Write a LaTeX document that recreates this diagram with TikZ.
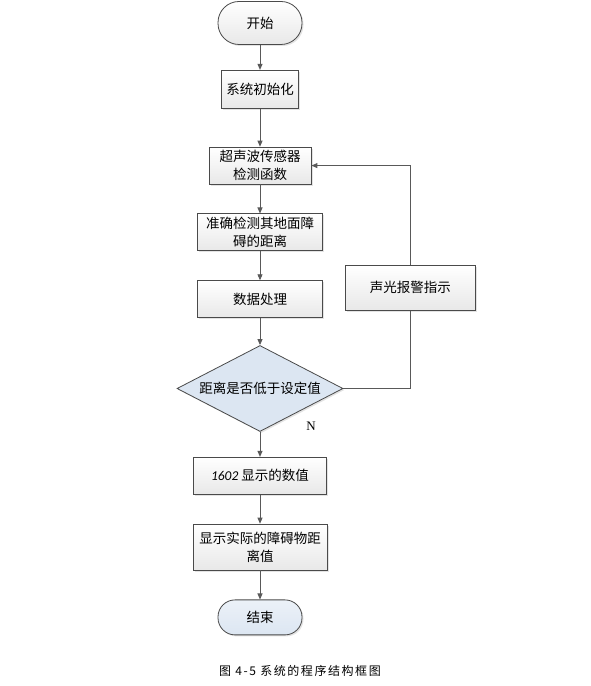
\documentclass[tikz,border=0pt]{standalone}
\usepackage{fontspec}
\usetikzlibrary{positioning,arrows.meta,shapes.geometric,shadows}
\setmainfont{Liberation Serif}
\newfontfamily\cjk{Noto Sans CJK SC}
\newfontfamily\capfont[LetterSpace=13]{Noto Sans CJK SC}
\newfontfamily\cali{Carlito}
\definecolor{ink}{HTML}{595959}
\definecolor{edge}{HTML}{4A4A4A}
\definecolor{pale}{HTML}{DCE6F2}

\begin{document}
\begin{tikzpicture}[x=1pt,y=1pt,box/.style={draw=edge,line width=0.8pt,top color=white,bottom color=black!9,drop shadow={shadow xshift=1.5pt,shadow yshift=-1.5pt,fill=black!22},minimum height=37pt,inner sep=1pt,align=center,font=\cjk\fontsize{13.5}{18}\selectfont},term/.style={box,minimum width=84pt},decide/.style={box,diamond,top color=pale,bottom color=pale,aspect=1.93,inner sep=0pt,minimum width=166pt,minimum height=86pt},arr/.style={-{Triangle[length=6pt,width=5pt]},line width=0.9pt,draw=ink}]
\useasboundingbox (0,0) rectangle (590,686);
\node[term,minimum height=43pt,rounded corners=21pt] (start) at (260,663) {开始};
\node[box,minimum width=77pt,minimum height=38pt,below=25pt of start] (init) {系统初始化};
\node[box,minimum width=102pt,below=38pt of init] (sensor) {超声波传感器\\检测函数};
\node[box,minimum width=125pt,below=29pt of sensor] (measure) {准确检测其地面障\\碍的距离};
\node[box,minimum width=125pt,below=29pt of measure] (process) {数据处理};
\node[decide,below=27pt of process] (check) {距离是否低于设定值};
\node[box,minimum width=133pt,below=25pt of check] (show) {{\cali\itshape 1602} 显示的数值};
\node[box,minimum width=134pt,minimum height=46pt,below=29pt of show] (actual) {显示实际的障碍物距\\离值};
\node[term,minimum height=35pt,rounded corners=17pt,top color=pale!55,bottom color=pale,below=29pt of actual] (stop) {结束};
\node[box,minimum width=130pt,minimum height=45pt,right=22pt of process,yshift=11.5pt] (alarm) {声光报警指示};
\node[font=\fontsize{13}{13}\selectfont] (nlab) at ([xshift=51pt,yshift=-38pt]check.center) {N};
\node[font=\capfont\fontsize{12}{12}\selectfont] (caption) at (300,15) {图\ 4-5\ 系统的程序结构框图};
\draw[arr] (start)--(init);\draw[arr] (init)--(sensor);
\draw[arr] (sensor)--(measure);\draw[arr] (measure)--(process);
\draw[arr] (process)--(check);\draw[arr] (check)--(show);
\draw[arr] (show)--(actual);\draw[arr] (actual)--(stop);
\draw[line width=0.9pt,draw=ink] (check.east) -| (alarm.south);
\draw[arr] (alarm.north) |- (sensor.east);
\end{tikzpicture}
\end{document}
